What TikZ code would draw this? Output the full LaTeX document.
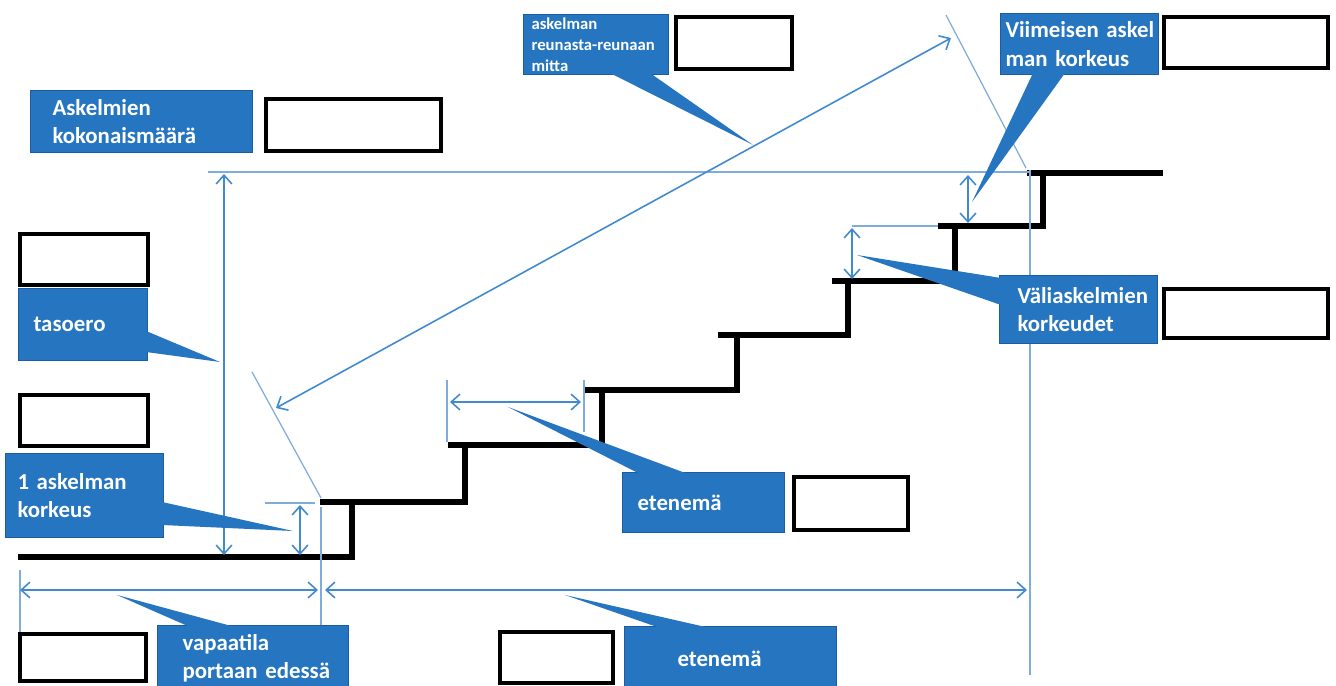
\documentclass[tikz,border=0pt]{standalone}
\usepackage{fontspec}
\setmainfont{Carlito}
\usepackage{xcolor}
\definecolor{calloutblue}{RGB}{38,117,192}
\definecolor{calloutedge}{RGB}{28,92,160}
\definecolor{dimblue}{RGB}{66,138,206}
\definecolor{extblue}{RGB}{128,172,220}
\usetikzlibrary{positioning}
\usetikzlibrary{arrows.meta}
\usetikzlibrary{calc}
\usetikzlibrary{fit}

\begin{document}
\begin{tikzpicture}[x=0.02cm,y=-0.02cm,
	stair/.style={line width=3.3pt},
	dimline/.style={draw=dimblue,line width=0.9pt,{Straight Barb[length=5pt,width=9pt]}-{Straight Barb[length=5pt,width=9pt]}},
	extline/.style={draw=extblue,line width=0.7pt},
	entry/.style={draw=black,line width=2.5pt,fill=white,inner sep=0pt},
	callout/.style n args={3}{fill=calloutblue,draw=calloutedge,line width=0.6pt,text=white,
		font=\bfseries\fontsize{13}{16}\selectfont,align=left,inner sep=0pt,anchor=north west,
		minimum width=#1,text width=#1,minimum height=#2,execute at begin node={\leftskip=#3}},
	pointer/.style={fill=calloutblue}]
	\useasboundingbox[fill=white] (0,0) rectangle (1336,686);
	\foreach \xa/\xb/\ya/\yb in {18/352/557/502,320/465/502/445,448/602/445/390,583/737/390/335,718/848/335/281,832/955/281/226,938/1043/226/173}
		\draw[stair] (\xa,\ya) -- (\xb,\ya) -- (\xb,\yb);
	\draw[stair] (1027,173) -- (1163,173);

	\draw[extline] (208,172) -- (1030,172);
	\draw[extline] (1030,170) -- (1030,675);
	\draw[extline] (321,507) -- (321,626);
	\draw[extline] (20,570) -- (20,632);
	\draw[extline] (265,503) -- (315,503);
	\draw[extline] (252,372) -- (321,498);
	\draw[extline] (946,15) -- (1026,168);
	\draw[extline] (447,380) -- (447,442);
	\draw[extline] (584,380) -- (584,432);
	\draw[extline] (852,226) -- (938,226);
	\draw[dimline] (224,174) -- (224,555);
	\draw[dimline] (300,505) -- (300,555);
	\draw[dimline] (20,590) -- (318,590);
	\draw[dimline] (325,590) -- (1027,590);
	\draw[dimline] (276,408) -- (951,38);
	\draw[dimline] (450,402) -- (581,402);
	\draw[dimline] (852,228) -- (852,279);
	\draw[dimline] (968,175) -- (968,223);

	\node[callout={4.44cm}{1.24cm}{0.44cm}] (nAsk) at (30,90) {Askelmien\\kokonaismäärä};
	\node[callout={2.90cm}{1.20cm}{0.16cm},font=\bfseries\fontsize{9.5}{12}\selectfont] (nReuna) at (523,14) {askelman\\reunasta-reunaan\\mitta};
	\node[callout={3.16cm}{1.22cm}{0.10cm}] (nViim) at (1000,13) {Viimeisen askel\\man korkeus};
	\node[callout={3.16cm}{1.36cm}{0.36cm}] (nVali) at (999,275) {Väliaskelmien\\korkeudet};
	\node[callout={2.58cm}{1.44cm}{0.30cm}] (nTaso) at (18,288) {tasoero};
	\node[callout={3.16cm}{1.68cm}{0.24cm}] (nYksi) at (5,453) {1 askelman\\korkeus};
	\node[callout={3.82cm}{1.30cm}{0.50cm}] (nVapaa) at (157,625) {vapaatila\\portaan edessä};
	\node[callout={3.24cm}{1.20cm}{0.30cm}] (nEtenA) at (622,472) {etenemä};
	\node[callout={4.24cm}{1.28cm}{1.06cm}] (nEtenB) at (624,626) {etenemä};

	\coordinate (cReuna) at (753,145);
	\coordinate (cViim) at (972,202);
	\coordinate (cVali) at (857,255);
	\coordinate (cTaso) at (220,362);
	\coordinate (cYksi) at (293,531);
	\coordinate (cVapaa) at (117,595);
	\coordinate (cEtenA) at (508,407);
	\coordinate (cEtenB) at (565,595);
	\fill[pointer] ($(nReuna.south west)+(87,-2)$) -- (cReuna) -- ($(nReuna.south west)+(127,-2)$) -- cycle;
	\fill[pointer] ($(nViim.south west)+(33,-2)$) -- (cViim) -- ($(nViim.south west)+(65,-2)$) -- cycle;
	\fill[pointer] ($(nVali.north west)+(2,3)$) -- (cVali) -- ($(nVali.north west)+(2,30)$) -- cycle;
	\fill[pointer] ($(nTaso.north east)+(-2,43)$) -- (cTaso) -- ($(nTaso.north east)+(-2,64)$) -- cycle;
	\fill[pointer] ($(nYksi.north east)+(-2,49)$) -- (cYksi) -- ($(nYksi.north east)+(-2,72)$) -- cycle;
	\fill[pointer] ($(nVapaa.north west)+(33,2)$) -- (cVapaa) -- ($(nVapaa.north west)+(78,2)$) -- cycle;
	\fill[pointer] ($(nEtenA.north west)+(18,2)$) -- (cEtenA) -- ($(nEtenA.north west)+(66,2)$) -- cycle;
	\fill[pointer] ($(nEtenB.north west)+(36,2)$) -- (cEtenB) -- ($(nEtenB.north west)+(86,2)$) -- cycle;

	\node[entry,fit={(266,99)(441,151)}] (bAsk) {};
	\node[entry,fit={(676,17)(792,69)}] (bReuna) {};
	\node[entry,fit={(1164,17)(1328,68)}] (bViim) {};
	\node[entry,fit={(1164,289)(1328,338)}] (bVali) {};
	\node[entry,fit={(20,234)(148,285)}] (bTasoA) {};
	\node[entry,fit={(20,395)(148,446)}] (bTasoB) {};
	\node[entry,fit={(20,634)(146,681)}] (bVapaa) {};
	\node[entry,fit={(794,477)(908,530)}] (bEtenA) {};
	\node[entry,fit={(500,632)(613,683)}] (bEtenB) {};
\end{tikzpicture}
\end{document}
